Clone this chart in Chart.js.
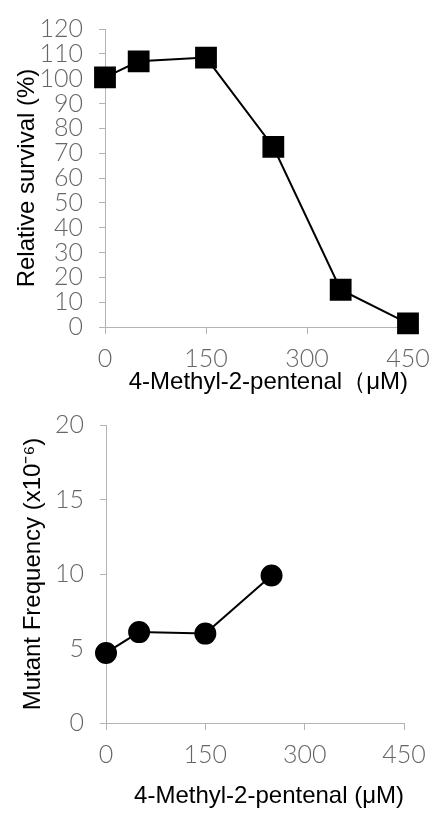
<!DOCTYPE html>
<html>
<head>
<meta charset="utf-8">
<script src="https://cdn.jsdelivr.net/npm/chart.js@4/dist/chart.umd.min.js"></script>
<style>
  body { margin: 0; background: #fff; }
  .box { position: absolute; left: 0; width: 431px; }
  #top { top: 0; height: 400px; }
  #bottom { top: 400px; height: 414px; }
</style>
</head>
<body>
<div class="box" id="top"><canvas id="survivalChart"></canvas></div>
<div class="box" id="bottom"><canvas id="mutantChart"></canvas></div>
<script>
// survival curve
const doses = [0, 50, 150, 250, 350, 450];
const survival = [100.5, 107, 108.5, 72.5, 15, 1.5];
// mutant frequency
const mutantDoses = [0, 50, 150, 250];
const mutantFreq = [4.7, 6.1, 6.0, 9.9];

const xTicks = [0, 150, 300, 450];
const survivalTicks = [0, 10, 20, 30, 40, 50, 60, 70, 80, 90, 100, 110, 120];
const mutantTicks = [0, 5, 10, 15, 20];

const tickFont = { family: 'Lato', size: 25, weight: 300 };
const titleFont = { family: 'Arial, "Liberation Sans"', size: 24 };
const axisGray = '#b3b3b3';
const tickGray = '#666666';

function makeChart(id, xs, ys, opts) {
    const ctx = document.getElementById(id).getContext('2d');
    return new Chart(ctx, {
        type: 'line',
        data: {
            datasets: [{
                data: xs.map((x, i) => ({ x: x, y: ys[i] })),
                borderColor: '#000',
                backgroundColor: '#000',
                borderWidth: 2,
                pointStyle: opts.pointStyle,
                pointRadius: opts.pointRadius,
                pointHoverRadius: opts.pointRadius,
                clip: false
            }]
        },
        options: {
            responsive: true,
            maintainAspectRatio: false,
            animation: false,
            layout: { padding: { left: 0, right: opts.padRight, top: opts.padTop, bottom: 0 } },
            plugins: { legend: { display: false }, tooltip: { enabled: false } },
            scales: {
                x: {
                    type: 'linear',
                    min: 0,
                    max: 450,
                    afterBuildTicks: s => { s.ticks = xTicks.map(v => ({ value: v })); },
                    afterFit: s => {
                        s.height = opts.xHeight;
                        s.paddingLeft = 0;
                        s.paddingRight = 0;
                    },
                    border: { color: axisGray, width: 1 },
                    grid: { drawOnChartArea: false, color: axisGray, tickLength: 7 },
                    ticks: { font: tickFont, color: tickGray, padding: 10, maxRotation: 0 },
                    title: {
                        display: true,
                        text: opts.xTitle,
                        align: 'end',
                        font: titleFont,
                        color: '#000',
                        padding: { top: 0, bottom: 3 }
                    }
                },
                y: {
                    type: 'linear',
                    min: opts.yTicks[0],
                    max: opts.yTicks[opts.yTicks.length - 1],
                    afterBuildTicks: s => { s.ticks = opts.yTicks.map(v => ({ value: v })); },
                    afterFit: s => {
                        s.width = opts.yWidth;
                        s.paddingTop = 0;
                        s.paddingBottom = 0;
                    },
                    border: { color: axisGray, width: 1 },
                    grid: { drawOnChartArea: false, color: axisGray, tickLength: 6 },
                    ticks: { font: tickFont, color: tickGray, padding: 16, autoSkip: false },
                    title: {
                        display: true,
                        text: opts.yTitle,
                        font: titleFont,
                        color: '#000',
                        padding: { top: opts.yTitlePad, bottom: 0 }
                    }
                }
            }
        }
    });
}

makeChart('survivalChart', doses, survival, {
    pointStyle: 'rect', pointRadius: 14,
    padRight: 23, padTop: 29, xHeight: 73, yWidth: 105, yTitlePad: 13,
    yTicks: survivalTicks,
    xTitle: '4-Methyl-2-pentenal（μM)',
    yTitle: 'Relative survival (%)'
});

makeChart('mutantChart', mutantDoses, mutantFreq, {
    pointStyle: 'circle', pointRadius: 10,
    padRight: 27, padTop: 25, xHeight: 91, yWidth: 106, yTitlePad: 19,
    yTicks: mutantTicks,
    xTitle: '4-Methyl-2-pentenal (μM)',
    yTitle: 'Mutant Frequency (x10⁻⁶)'
});
</script>
</body>
</html>
